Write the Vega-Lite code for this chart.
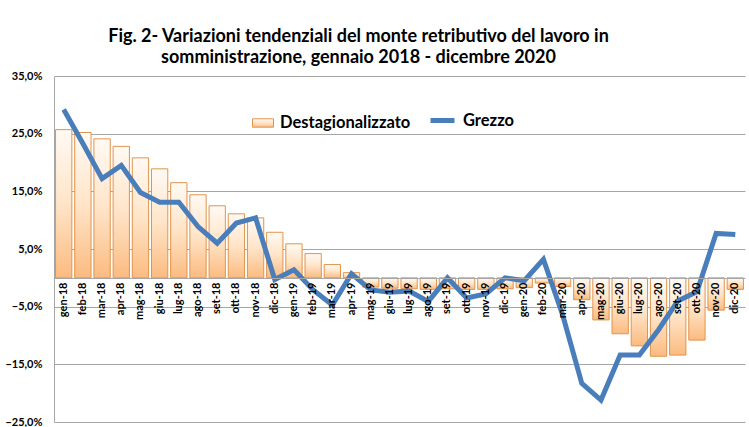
{
  "$schema": "https://vega.github.io/schema/vega-lite/v6.json",
  "width": 691,
  "height": 346,
  "autosize": {"type": "none"},
  "padding": {"left": 54, "top": 76, "right": 4, "bottom": 5},
  "background": "white",
  "title": {
    "text": ["Fig. 2- Variazioni tendenziali del monte retributivo del lavoro in", "somministrazione, gennaio 2018 - dicembre 2020"],
    "font": "Lato", "fontSize": 18, "fontWeight": "bold", "color": "#000000",
    "anchor": "middle", "dx": -41, "offset": 3, "lineHeight": 21
  },
  "data": {"values": [
    {"mese": "gen-18", "destag": 25.7, "grezzo": 29.2},
    {"mese": "feb-18", "destag": 25.2, "grezzo": 23.3},
    {"mese": "mar-18", "destag": 24.1, "grezzo": 17.2},
    {"mese": "apr-18", "destag": 22.8, "grezzo": 19.5},
    {"mese": "mag-18", "destag": 20.8, "grezzo": 14.8},
    {"mese": "giu-18", "destag": 18.9, "grezzo": 13.1},
    {"mese": "lug-18", "destag": 16.5, "grezzo": 13.1},
    {"mese": "ago-18", "destag": 14.4, "grezzo": 8.9},
    {"mese": "set-18", "destag": 12.5, "grezzo": 6.0},
    {"mese": "ott-18", "destag": 11.1, "grezzo": 9.5},
    {"mese": "nov-18", "destag": 10.4, "grezzo": 10.4},
    {"mese": "dic-18", "destag": 7.9, "grezzo": -0.3},
    {"mese": "gen-19", "destag": 5.9, "grezzo": 1.4},
    {"mese": "feb-19", "destag": 4.2, "grezzo": -2.1},
    {"mese": "mar-19", "destag": 2.3, "grezzo": -4.7},
    {"mese": "apr-19", "destag": 0.9, "grezzo": 0.7},
    {"mese": "mag-19", "destag": -1.6, "grezzo": -2.1},
    {"mese": "giu-19", "destag": -1.8, "grezzo": -2.5},
    {"mese": "lug-19", "destag": -1.9, "grezzo": -2.3},
    {"mese": "ago-19", "destag": -2.0, "grezzo": -4.1},
    {"mese": "set-19", "destag": -1.9, "grezzo": 0.0},
    {"mese": "ott-19", "destag": -2.0, "grezzo": -3.5},
    {"mese": "nov-19", "destag": -2.0, "grezzo": -2.8},
    {"mese": "dic-19", "destag": -1.9, "grezzo": 0.0},
    {"mese": "gen-20", "destag": -1.7, "grezzo": -0.5},
    {"mese": "feb-20", "destag": -0.9, "grezzo": 3.2},
    {"mese": "mar-20", "destag": -1.5, "grezzo": -6.4},
    {"mese": "apr-20", "destag": -3.8, "grezzo": -18.3},
    {"mese": "mag-20", "destag": -7.3, "grezzo": -21.2},
    {"mese": "giu-20", "destag": -9.7, "grezzo": -13.4},
    {"mese": "lug-20", "destag": -11.8, "grezzo": -13.4},
    {"mese": "ago-20", "destag": -13.6, "grezzo": -9.0},
    {"mese": "set-20", "destag": -13.4, "grezzo": -4.0},
    {"mese": "ott-20", "destag": -10.8, "grezzo": -2.4},
    {"mese": "nov-20", "destag": -5.6, "grezzo": 7.7},
    {"mese": "dic-20", "destag": -2.0, "grezzo": 7.5}
  ]},
  "encoding": {
    "x": {"field": "mese", "type": "ordinal", "sort": null, "title": null,
          "scale": {"paddingInner": 0.15, "paddingOuter": 0.08},
          "axis": {"zindex": 1, "labelAngle": -90, "labelAlign": "right", "labelBaseline": "middle",
                   "labelFont": "Lato", "labelFontSize": 11, "labelFontWeight": "bold", "labelColor": "#000000",
                   "labelPadding": 4, "ticks": false, "grid": false, "domainColor": "#a6a6a6",
                   "offset": -144, "labelOverlap": false}}
  },
  "layer": [
    {
      "mark": {
        "type": "bar",
        "fill": {"gradient": "linear", "x1": 0, "y1": 0, "x2": 0, "y2": 1,
                 "stops": [{"offset": 0, "color": "#fffaf4"}, {"offset": 0.5, "color": "#ffe4c8"}, {"offset": 1, "color": "#fbbb80"}]},
        "strokeWidth": 1
      },
      "encoding": {
        "y": {"field": "destag", "type": "quantitative",
              "scale": {"domain": [-25, 35], "nice": false, "zero": false},
              "axis": {"title": null, "values": [-25, -15, -5, 5, 15, 25, 35],
                       "labelExpr": "replace(format(datum.value, '.1f'), '.', ',') + '%'"}},
        "stroke": {
          "datum": "Destagionalizzato",
          "scale": {"domain": ["Destagionalizzato"], "range": ["#e0944c"]},
          "legend": {
            "orient": "none", "legendX": 198, "legendY": 36,
            "title": null, "labelFont": "Lato", "labelFontSize": 16.5, "labelFontWeight": "bold",
            "labelColor": "#000000", "symbolSize": 441, "labelOffset": 6,
            "symbolType": "M-1,-0.4H1V0.4H-1Z", "symbolStrokeWidth": 1,
            "symbolFillColor": "#fdd5ac"
          }
        }
      }
    },
    {
      "mark": {"type": "line", "strokeWidth": 5, "strokeJoin": "miter"},
      "encoding": {
        "y": {"field": "grezzo", "type": "quantitative",
              "axis": {"title": null, "values": [-25, -15, -5, 5, 15, 25, 35],
                       "labelExpr": "replace(format(datum.value, '.1f'), '.', ',') + '%'"}},
        "color": {
          "datum": "Grezzo",
          "scale": {"domain": ["Grezzo"], "range": ["#4a7ebb"]},
          "legend": {
            "orient": "none", "legendX": 374, "legendY": 30,
            "title": null, "labelFont": "Lato", "labelFontSize": 16.5, "labelFontWeight": "bold",
            "labelColor": "#000000", "symbolSize": 576, "labelOffset": 6,
            "symbolType": "stroke", "symbolStrokeWidth": 5
          }
        }
      }
    }
  ],
  "config": {
    "view": {"stroke": null},
    "axisY": {
      "labelFont": "Lato", "labelFontSize": 11, "labelFontWeight": "bold", "labelColor": "#000000",
      "labelPadding": 12, "ticks": false, "grid": true, "gridColor": "#a6a6a6", "domainColor": "#a6a6a6"
    }
  }
}
